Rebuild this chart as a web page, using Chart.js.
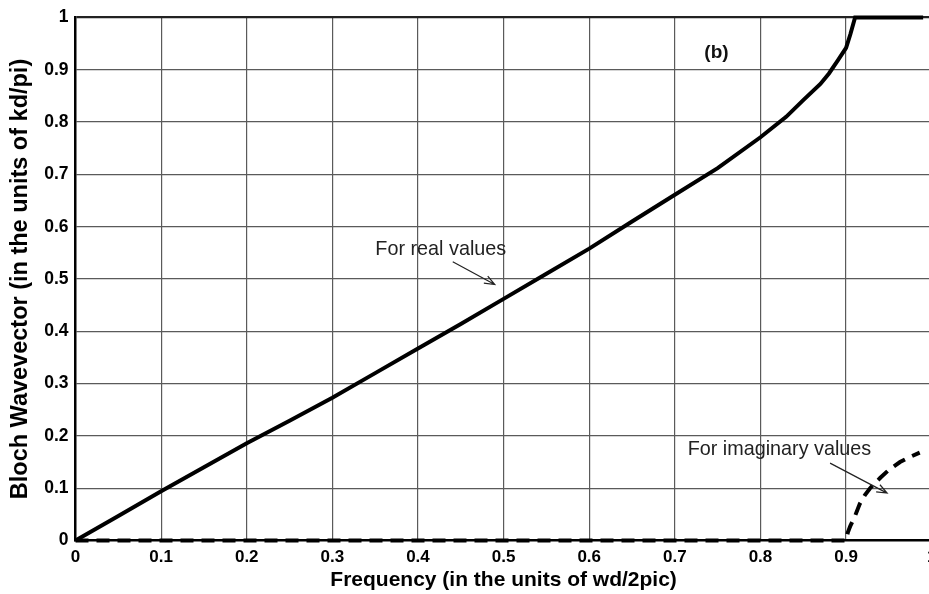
<!DOCTYPE html>
<html><head><meta charset="utf-8">
<script src="https://cdn.jsdelivr.net/npm/chart.js@4/dist/chart.umd.min.js"></script>
<style>
html,body{margin:0;padding:0;overflow:hidden;background:#fff}
#wrap{width:945px;height:594px;position:relative}
</style>
</head><body>
<div id="wrap"><canvas id="c"></canvas></div>
<script>
// ---- data ----
const realX = [0, 0.05, 0.1, 0.15, 0.2, 0.25, 0.3, 0.35, 0.4, 0.45, 0.5, 0.55, 0.6, 0.65, 0.7, 0.75, 0.8, 0.83, 0.85, 0.87, 0.88, 0.89, 0.9, 0.905, 0.9105, 0.99];
const realY = [0, 0.047, 0.094, 0.14, 0.186, 0.229, 0.273, 0.32, 0.367, 0.414, 0.462, 0.51, 0.558, 0.61, 0.661, 0.712, 0.771, 0.81, 0.842, 0.873, 0.893, 0.917, 0.942, 0.968, 1, 1];
const imagX = [0, 0.9, 0.902, 0.905, 0.91, 0.916, 0.922, 0.928, 0.94, 0.95, 0.963, 0.975, 0.986];
const imagY = [0, 0, 0.015, 0.028, 0.045, 0.07, 0.087, 0.1, 0.12, 0.135, 0.15, 0.16, 0.168];
const xTickValues = [0, 0.1, 0.2, 0.3, 0.4, 0.5, 0.6, 0.7, 0.8, 0.9, 1];
const xTickLabels = ['0', '0.1', '0.2', '0.3', '0.4', '0.5', '0.6', '0.7', '0.8', '0.9', '1'];
const yTickValues = [0, 0.1, 0.2, 0.3, 0.4, 0.5, 0.6, 0.7, 0.8, 0.9, 1];
const yTickLabels = ['0', '0.1', '0.2', '0.3', '0.4', '0.5', '0.6', '0.7', '0.8', '0.9', '1'];
const xTitle = 'Frequency (in the units of wd/2pic)';
const yTitle = 'Bloch Wavevector (in the units of kd/pi)';
const noteTexts = ['For real values', 'For imaginary values'];
const noteX = [0.4266, 0.8222];
const noteY = [0.556, 0.173];
const arrowFromX = [0.4406, 0.8813];
const arrowFromY = [0.533, 0.148];
const arrowToX = [0.4897, 0.9479];
const arrowToY = [0.4895, 0.0906];
const panelLabel = '(b)';
const panelX = 0.7486;
const panelY = 0.932;

const FONT = '"Liberation Sans", Arial, Helvetica, sans-serif';

const notesPlugin = {
  id: 'notes',
  afterDatasetsDraw(chart) {
    const ctx = chart.ctx, xs = chart.scales.x, ys = chart.scales.y;
    ctx.save();
    ctx.fillStyle = '#222';
    ctx.font = '19.8px ' + FONT;
    ctx.textAlign = 'center';
    ctx.textBaseline = 'middle';
    noteTexts.forEach((t, i) => {
      ctx.fillText(t, xs.getPixelForValue(noteX[i]), ys.getPixelForValue(noteY[i]));
    });
    ctx.strokeStyle = '#222';
    ctx.lineWidth = 1.2;
    noteTexts.forEach((t, i) => {
      const x0 = xs.getPixelForValue(arrowFromX[i]), y0 = ys.getPixelForValue(arrowFromY[i]);
      const x1 = xs.getPixelForValue(arrowToX[i]), y1 = ys.getPixelForValue(arrowToY[i]);
      const a = Math.atan2(y1 - y0, x1 - x0);
      const L = 11, w = 0.38;
      ctx.beginPath();
      ctx.moveTo(x0, y0); ctx.lineTo(x1, y1);
      ctx.moveTo(x1 - L * Math.cos(a - w), y1 - L * Math.sin(a - w));
      ctx.lineTo(x1, y1);
      ctx.lineTo(x1 - L * Math.cos(a + w), y1 - L * Math.sin(a + w));
      ctx.stroke();
    });
    ctx.fillStyle = '#111';
    ctx.font = 'bold 19px ' + FONT;
    ctx.fillText(panelLabel, xs.getPixelForValue(panelX), ys.getPixelForValue(panelY));
    ctx.restore();
  }
};

new Chart(document.getElementById('c'), {
  type: 'line',
  data: {
    datasets: [
      {
        label: 'real',
        data: realX.map((x, i) => ({x, y: realY[i]})),
        borderColor: '#000', borderWidth: 4, pointRadius: 0, tension: 0, fill: false, clip: false
      },
      {
        label: 'imag',
        data: imagX.map((x, i) => ({x, y: imagY[i]})),
        borderColor: '#000', borderWidth: 4, borderDash: [13, 8], pointRadius: 0, tension: 0, fill: false, clip: false
      }
    ]
  },
  options: {
    responsive: true,
    maintainAspectRatio: false,
    animation: false,
    devicePixelRatio: 1,
    layout: { padding: { top: 17, left: 6.9, right: 13.3, bottom: 1 } },
    plugins: { legend: { display: false }, tooltip: { enabled: false } },
    scales: {
      x: {
        type: 'linear', min: 0, max: 1,
        afterBuildTicks: s => { s.ticks = xTickValues.map(v => ({value: v})); },
        afterFit: s => { s.height = 52.5; },
        ticks: {
          autoSkip: false, maxRotation: 0, padding: 7, color: '#000',
          font: { family: FONT, size: 17, weight: 'bold' },
          callback: (v, i) => xTickLabels[i]
        },
        grid: {
          drawTicks: false,
          color: c => (c.tick && c.tick.value === 0) ? 'rgba(0,0,0,0)' : '#5a5a5a',
          lineWidth: 1.2
        },
        border: { display: true, color: '#000', width: 2.5 },
        title: {
          display: true, text: xTitle, color: '#000', padding: { top: 0, bottom: 0 },
          font: { family: FONT, size: 21, weight: 'bold' }
        }
      },
      y: {
        type: 'linear', min: 0, max: 1,
        afterBuildTicks: s => { s.ticks = yTickValues.map(v => ({value: v})); },
        afterFit: s => { s.width = 68.6; },
        ticks: {
          autoSkip: false, padding: 7, color: '#000',
          font: { family: FONT, size: 17.5, weight: 'bold' },
          callback: (v, i) => yTickLabels[i]
        },
        grid: {
          drawTicks: false,
          color: c => {
            if (!c.tick) return '#5a5a5a';
            if (c.tick.value === 0) return 'rgba(0,0,0,0)';
            if (c.tick.value === 1) return '#222';
            return '#5a5a5a';
          },
          lineWidth: c => (c.tick && c.tick.value === 1) ? 2.2 : 1.2
        },
        border: { display: true, color: '#000', width: 2.5 },
        title: {
          display: true, text: yTitle, color: '#000', padding: { top: 0, bottom: 0 },
          font: { family: FONT, size: 23.5, weight: 'bold' }
        }
      }
    }
  },
  plugins: [notesPlugin]
});
</script>
</body></html>
